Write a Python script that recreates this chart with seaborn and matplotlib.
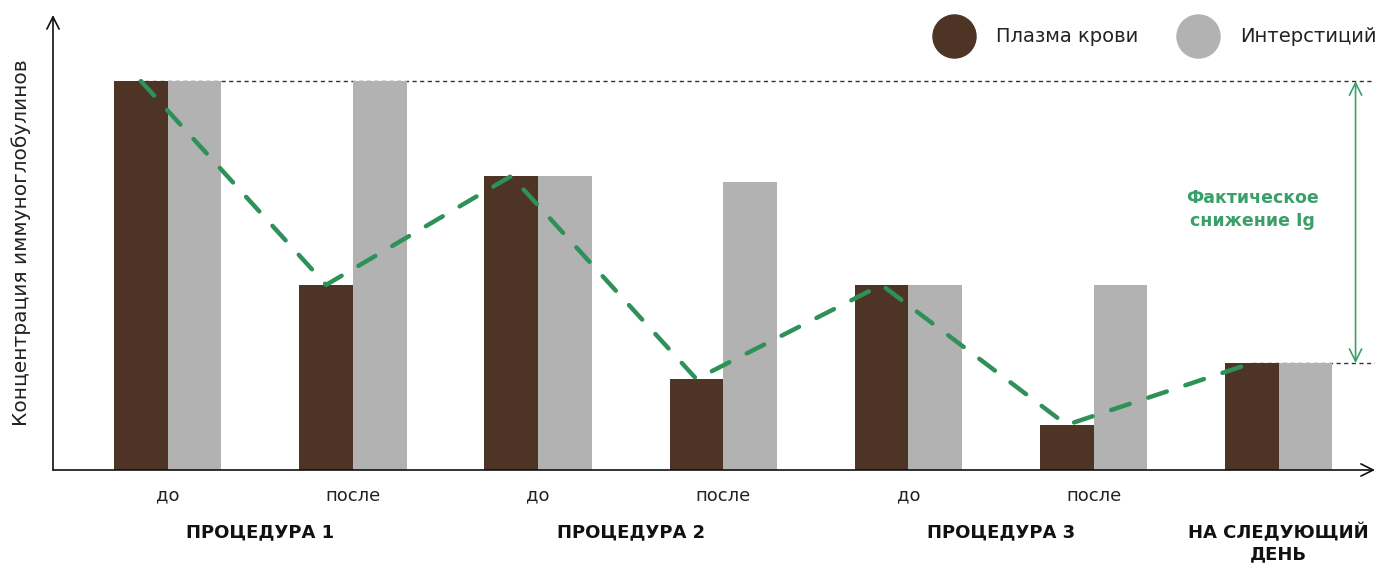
import numpy as np
import pandas as pd
import seaborn as sns
import matplotlib
matplotlib.use('Agg')
import matplotlib.pyplot as plt
from matplotlib.lines import Line2D

# values (first bar = 100)
stages = ['до', 'после', 'до', 'после', 'до', 'после', '']
plasma = [100, 47.6, 75.6, 23.4, 47.6, 11.6, 27.5]
interstitium = [100, 100, 75.6, 74.0, 47.6, 47.6, 27.5]
procedures = ['ПРОЦЕДУРА 1', 'ПРОЦЕДУРА 2', 'ПРОЦЕДУРА 3', 'НА СЛЕДУЮЩИЙ\nДЕНЬ']
series = ['Плазма крови', 'Интерстиций']

brown = '#4e3424'
grey = '#b2b2b2'
green = '#2e9158'

n = len(stages)
df = pd.DataFrame({
    'step': list(range(n)) * 2,
    'value': plasma + interstitium,
    'series': [series[0]] * n + [series[1]] * n,
})

sns.set_style('white')
plt.rcParams['font.family'] = ['DejaVu Sans']

fig = plt.figure(figsize=(13.96, 5.68), dpi=100)
ax = fig.add_axes([53 / 1396, 98 / 568, 1322 / 1396, 455 / 568])

bar_w = 0.58
sns.barplot(data=df, x='step', y='value', hue='series', hue_order=series,
            palette=[brown, grey], width=bar_w, gap=0, legend=False,
            saturation=1, linewidth=0, ax=ax, zorder=2)

# dashed line through the plasma bars
steps = np.arange(n)
sns.lineplot(x=steps - bar_w / 4, y=plasma, ax=ax, color=green, lw=3.2,
             dashes=False, zorder=3)
line = ax.lines[-1]
line.set_dashes((4.4, 4.4))
line.set_dash_capstyle('round')

ax.set_xlim(-0.62, n - 1 + 0.52)
ax.set_ylim(0, 117)
for s in ax.spines.values():
    s.set_visible(False)

# axes with arrows
ax.annotate('', xy=(1, 0), xytext=(0, 0), xycoords='axes fraction',
            arrowprops=dict(arrowstyle='->', lw=1.2, color='#111111',
                            mutation_scale=22, shrinkA=0, shrinkB=0))
ax.annotate('', xy=(0, 1), xytext=(0, 0), xycoords='axes fraction',
            arrowprops=dict(arrowstyle='->', lw=1.2, color='#111111',
                            mutation_scale=22, shrinkA=0, shrinkB=0))

ax.set_yticks([])
ax.set_xticks(steps)
ax.set_xticklabels(stages, fontsize=13, color='#222222')
ax.tick_params(axis='x', length=0, pad=12)
ax.set_xlabel('')
ax.set_ylabel('Концентрация иммуноглобулинов', fontsize=14.5, color='#222222',
              labelpad=16)

# procedure captions
proc_x = [0.5, 2.5, 4.5, 6]
for px, txt in zip(proc_x, procedures):
    ax.annotate(txt, xy=(px, 0), xycoords=('data', 'axes fraction'),
                xytext=(0, -38), textcoords='offset points', ha='center',
                va='top', fontsize=13, fontweight='bold', color='#111111',
                linespacing=1.25)

# reference levels and real decrease
right = n - 1 + 0.52
ax.plot([-bar_w / 4 - 0.02, right], [plasma[0], plasma[0]], color='#333333',
        lw=1, ls=(0, (3, 2.5)), zorder=1)
ax.plot([n - 1 - bar_w / 4, right], [plasma[-1], plasma[-1]],
        color='#333333', lw=1, ls=(0, (3, 2.5)), zorder=1)
ax.annotate('', xy=(n - 1 + 0.415, plasma[0]),
            xytext=(n - 1 + 0.415, plasma[-1]),
            arrowprops=dict(arrowstyle='<->', lw=1.2, color='#3a9f68',
                            mutation_scale=22, shrinkA=0, shrinkB=0))
ax.text(n - 1 - 0.14, 67, 'Фактическое\nснижение Ig', ha='center', va='center',
        fontsize=12.5, fontweight='bold', color='#3a9f68', linespacing=1.35)

# legend with round markers
handles = [Line2D([], [], ls='', marker='o', markersize=31, color=c)
           for c in (brown, grey)]
fig.legend(handles, series, loc='center right',
           bbox_to_anchor=(1394 / 1396, 1 - 37 / 568),
           ncol=2, frameon=False, fontsize=14, handletextpad=1.15,
           columnspacing=2.1, labelcolor='#222222')

fig.savefig('out.png', dpi=100)
